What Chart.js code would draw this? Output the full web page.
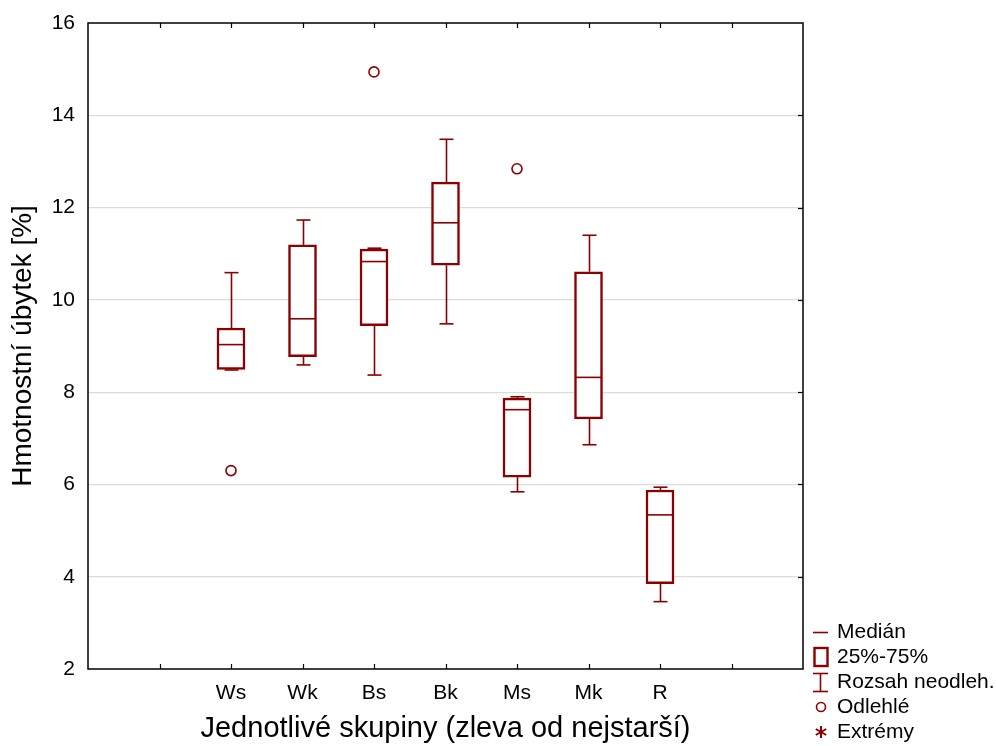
<!DOCTYPE html>
<html>
<head>
<meta charset="utf-8">
<script src="https://cdn.jsdelivr.net/npm/chart.js@4.4.0/dist/chart.umd.min.js"></script>
<style>
    html, body { margin: 0; padding: 0; background: #fff; }
    canvas { display: block; }
</style>
</head>
<body>
<canvas id="boxChart" width="996" height="746"></canvas>
<script>
    // Box plot data
    const groups = ['Ws', 'Wk', 'Bs', 'Bk', 'Ms', 'Mk', 'R'];
    const groupSlots = [2, 3, 4, 5, 6, 7, 8];
    const mins = [8.48, 8.59, 8.37, 9.48, 5.84, 6.86, 3.46];
    const q1s = [8.49, 8.77, 9.44, 10.75, 6.16, 7.42, 3.85];
    const medians = [9.03, 9.59, 10.83, 11.67, 7.62, 8.32, 5.34];
    const q3s = [9.39, 11.19, 11.10, 12.55, 7.87, 10.61, 5.88];
    const maxs = [10.59, 11.73, 11.12, 13.48, 7.90, 11.40, 5.94];
    const outlierGroups = ['Ws', 'Bs', 'Ms'];
    const outlierValues = [6.30, 14.94, 12.84];
    const yTicks = [2, 4, 6, 8, 10, 12, 14, 16];
    const legendLabels = ['Medián', '25%-75%', 'Rozsah neodleh.', 'Odlehlé', 'Extrémy'];

    const RED = '#8b0000';
    const FONT = 'Arial, "Liberation Sans", sans-serif';

    const slotOf = (name) => groupSlots[groups.indexOf(name)];

    function hLine(ctx, x1, x2, y) {
        ctx.beginPath();
        ctx.moveTo(x1, y);
        ctx.lineTo(x2, y);
        ctx.stroke();
    }

    function vLine(ctx, x, y1, y2) {
        ctx.beginPath();
        ctx.moveTo(x, y1);
        ctx.lineTo(x, y2);
        ctx.stroke();
    }

    const boxPartsPlugin = {
        id: 'boxParts',
        beforeDatasetsDraw(chart) {
            const { ctx, scales: { x, y } } = chart;
            ctx.save();
            ctx.strokeStyle = RED;
            ctx.lineWidth = 1.6;
            groups.forEach((g, i) => {
                const px = Math.round(x.getPixelForValue(groupSlots[i])) + 0.5;
                const cap = 7;
                vLine(ctx, px, y.getPixelForValue(q3s[i]), y.getPixelForValue(maxs[i]));
                hLine(ctx, px - cap, px + cap, y.getPixelForValue(maxs[i]));
                vLine(ctx, px, y.getPixelForValue(q1s[i]), y.getPixelForValue(mins[i]));
                hLine(ctx, px - cap, px + cap, y.getPixelForValue(mins[i]));
            });
            ctx.restore();
        },
        afterDatasetsDraw(chart) {
            const { ctx, chartArea: area, scales: { x, y } } = chart;
            ctx.save();
            // medians
            ctx.strokeStyle = RED;
            ctx.lineWidth = 1.6;
            groups.forEach((g, i) => {
                const px = x.getPixelForValue(groupSlots[i]);
                hLine(ctx, px - 13, px + 13, y.getPixelForValue(medians[i]));
            });

            // frame
            ctx.strokeStyle = '#000';
            ctx.lineWidth = 1.5;
            ctx.strokeRect(area.left, area.top, area.right - area.left, area.bottom - area.top);

            // inner tick marks
            ctx.lineWidth = 1.2;
            x.ticks.forEach((t) => {
                if (t.value <= x.min || t.value >= x.max) return;
                const px = Math.round(x.getPixelForValue(t.value)) + 0.5;
                vLine(ctx, px, area.top, area.top + 5);
                vLine(ctx, px, area.bottom, area.bottom - 5);
            });
            y.ticks.forEach((t) => {
                if (t.value <= y.min || t.value >= y.max) return;
                const py = Math.round(y.getPixelForValue(t.value)) + 0.5;
                hLine(ctx, area.right, area.right - 5, py);
            });

            // legend
            const lx = area.right + 10;
            const tx = area.right + 34;
            const rows = [632, 657, 682, 707, 732];
            ctx.strokeStyle = RED;
            ctx.fillStyle = RED;
            ctx.lineWidth = 1.6;
            hLine(ctx, lx, lx + 15, rows[0] + 0.5);
            ctx.lineWidth = 2.4;
            ctx.strokeRect(lx + 1.5, rows[1] - 9, 13, 18);
            ctx.lineWidth = 1.6;
            hLine(ctx, lx, lx + 15, rows[2] - 8.5);
            hLine(ctx, lx, lx + 15, rows[2] + 9.5);
            vLine(ctx, lx + 7.5, rows[2] - 8.5, rows[2] + 9.5);
            ctx.beginPath();
            ctx.arc(lx + 8, rows[3], 4.5, 0, Math.PI * 2);
            ctx.stroke();
            ctx.lineWidth = 2;
            [90, 30, -30].forEach((deg) => {
                const a = deg * Math.PI / 180;
                const r = 6;
                ctx.beginPath();
                ctx.moveTo(lx + 8 - r * Math.cos(a), rows[4] - r * Math.sin(a));
                ctx.lineTo(lx + 8 + r * Math.cos(a), rows[4] + r * Math.sin(a));
                ctx.stroke();
            });
            ctx.fillStyle = '#000';
            ctx.font = `21px ${FONT}`;
            ctx.textAlign = 'left';
            ctx.textBaseline = 'middle';
            legendLabels.forEach((label, i) => ctx.fillText(label, tx, rows[i]));
            ctx.restore();
        }
    };

    new Chart(document.getElementById('boxChart'), {
        type: 'bar',
        plugins: [boxPartsPlugin],
        data: {
            datasets: [{
                label: '25%-75%',
                data: groups.map((g, i) => ({ x: groupSlots[i], y: [q1s[i], q3s[i]] })),
                backgroundColor: '#ffffff',
                borderColor: RED,
                borderWidth: 2.5,
                borderSkipped: false,
                barThickness: 28
            }, {
                type: 'scatter',
                label: 'Odlehlé',
                data: outlierGroups.map((g, i) => ({ x: slotOf(g), y: outlierValues[i] })),
                pointStyle: 'circle',
                pointRadius: 5,
                pointBackgroundColor: '#ffffff',
                pointBorderColor: RED,
                pointBorderWidth: 1.6
            }]
        },
        options: {
            responsive: false,
            animation: false,
            devicePixelRatio: 1,
            layout: { padding: { top: 23, right: 193, left: 0, bottom: 0 } },
            plugins: {
                legend: { display: false },
                tooltip: { enabled: false }
            },
            scales: {
                x: {
                    type: 'linear',
                    min: 0,
                    max: 10,
                    offset: false,
                    grid: { display: false, offset: false, drawTicks: false },
                    border: { display: false },
                    afterBuildTicks(scale) {
                        scale.ticks = Array.from({ length: 11 }, (_, i) => ({ value: i }));
                    },
                    ticks: {
                        autoSkip: false,
                        maxRotation: 0,
                        padding: 12,
                        color: '#000',
                        font: { family: FONT, size: 21 },
                        callback: (v) => {
                            const i = groupSlots.indexOf(v);
                            return i >= 0 ? groups[i] : '';
                        }
                    },
                    title: {
                        display: true,
                        text: 'Jednotlivé skupiny (zleva od nejstarší)',
                        color: '#000',
                        font: { family: FONT, size: 29 },
                        padding: { top: 0, bottom: 0 }
                    },
                    afterFit(scale) { scale.height = 77; }
                },
                y: {
                    type: 'linear',
                    min: 2,
                    max: 16,
                    beginAtZero: false,
                    afterBuildTicks(scale) {
                        scale.ticks = yTicks.map((v) => ({ value: v }));
                    },
                    grid: {
                        drawTicks: false,
                        lineWidth: 1.2,
                        color: (c) => (c.tick && (c.tick.value === 2 || c.tick.value === 16)) ? 'rgba(0,0,0,0)' : '#dcdcdc'
                    },
                    border: { display: false },
                    ticks: {
                        padding: 13,
                        color: '#000',
                        font: { family: FONT, size: 21, lineHeight: 1 }
                    },
                    title: {
                        display: true,
                        text: 'Hmotnostní úbytek [%]',
                        color: '#000',
                        font: { family: FONT, size: 28 },
                        padding: { top: 6, bottom: 0 }
                    },
                    afterFit(scale) {
                        scale.width = 88;
                        scale.paddingTop = 0;
                        scale.paddingBottom = 0;
                    }
                }
            }
        }
    });
</script>
</body>
</html>
